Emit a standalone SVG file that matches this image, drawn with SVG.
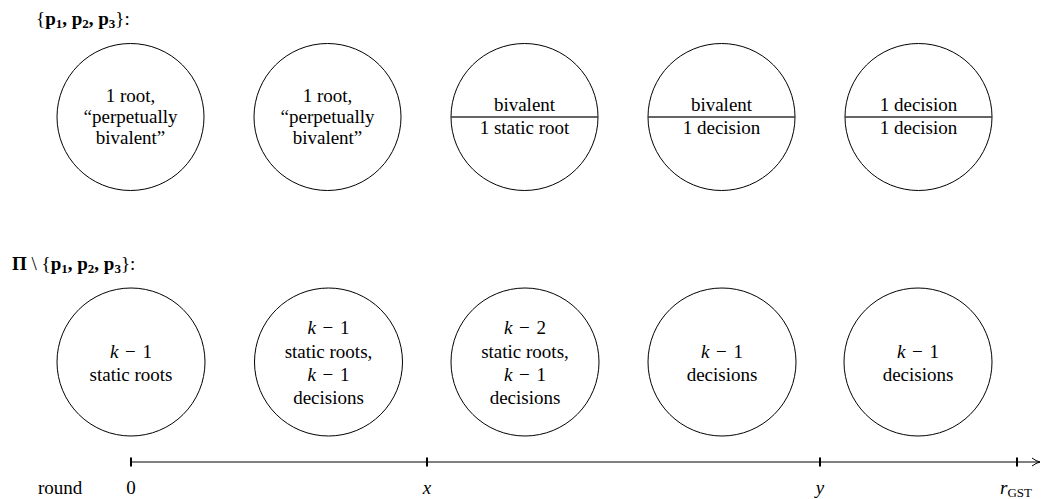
<svg xmlns="http://www.w3.org/2000/svg" width="1041" height="499" viewBox="0 0 1041 499">
<style>
text{font-family:"Liberation Serif","Times New Roman",serif;font-size:19px;fill:#000;text-anchor:middle}
.lbl{text-anchor:start}
.b{font-weight:bold}
.n{font-weight:normal}
.it{font-style:italic}
.sub{font-size:13px}
.node{fill:#fff;stroke:#000;stroke-width:1}
.split{stroke:#333;stroke-width:1.3}
.axis{stroke:#000;stroke-width:1;fill:none}
.tick{stroke:#000;stroke-width:2}
</style>
<defs>
<marker id="arr" viewBox="0 0 10 10" refX="9" refY="5" markerWidth="10" markerHeight="10" markerUnits="userSpaceOnUse" orient="auto">
<path d="M1,1 Q5,4 9,5 Q5,6 1,9" fill="none" stroke="#000" stroke-width="1"/>
</marker>
</defs>

<g id="label-top"><text class="lbl b" x="36" y="25" font-size="20"><tspan class="n">{</tspan>p<tspan class="sub" dy="3">1</tspan><tspan dy="-3">, p</tspan><tspan class="sub" dy="3">2</tspan><tspan dy="-3">, p</tspan><tspan class="sub" dy="3">3</tspan><tspan dy="-3" class="n">}:</tspan></text></g>

<g id="t1"><circle class="node" cx="130.5" cy="117" r="73.5"/>
<text x="130.5" y="102">1 root,</text><text x="130.5" y="123">“perpetually</text><text x="130.5" y="144">bivalent”</text></g>
<g id="t2"><circle class="node" cx="327.5" cy="117" r="73.5"/>
<text x="327.5" y="102">1 root,</text><text x="327.5" y="123">“perpetually</text><text x="327.5" y="144">bivalent”</text></g>
<g id="t3"><circle class="node" cx="524.5" cy="117" r="73.5"/><line class="split" x1="451" y1="117" x2="598" y2="117"/>
<text x="524.5" y="111">bivalent</text><text x="524.5" y="134">1 static root</text></g>
<g id="t4"><circle class="node" cx="721.5" cy="117" r="73.5"/><line class="split" x1="648" y1="117" x2="795" y2="117"/>
<text x="721.5" y="111">bivalent</text><text x="721.5" y="134">1 decision</text></g>
<g id="t5"><circle class="node" cx="918.5" cy="117" r="73.5"/><line class="split" x1="845" y1="117" x2="992" y2="117"/>
<text x="918.5" y="111">1 decision</text><text x="918.5" y="134">1 decision</text></g>

<g id="label-bottom"><text class="lbl b" x="12" y="270" font-size="20">Π <tspan class="n">\ {</tspan>p<tspan class="sub" dy="3">1</tspan><tspan dy="-3">, p</tspan><tspan class="sub" dy="3">2</tspan><tspan dy="-3">, p</tspan><tspan class="sub" dy="3">3</tspan><tspan dy="-3" class="n">}:</tspan></text></g>

<g id="b1"><circle class="node" cx="131" cy="362" r="74"/>
<text x="131" y="358"><tspan class="it">k</tspan><tspan dx="2"> − </tspan><tspan dx="2">1</tspan></text><text x="131" y="381">static roots</text></g>
<g id="b2"><circle class="node" cx="328.5" cy="362" r="74"/>
<text x="328.5" y="334"><tspan class="it">k</tspan><tspan dx="2"> − </tspan><tspan dx="2">1</tspan></text><text x="328.5" y="358">static roots,</text><text x="328.5" y="381"><tspan class="it">k</tspan><tspan dx="2"> − </tspan><tspan dx="2">1</tspan></text><text x="328.5" y="404">decisions</text></g>
<g id="b3"><circle class="node" cx="525" cy="362" r="74"/>
<text x="525" y="334"><tspan class="it">k</tspan><tspan dx="2"> − </tspan><tspan dx="2">2</tspan></text><text x="525" y="358">static roots,</text><text x="525" y="381"><tspan class="it">k</tspan><tspan dx="2"> − </tspan><tspan dx="2">1</tspan></text><text x="525" y="404">decisions</text></g>
<g id="b4"><circle class="node" cx="722" cy="362" r="74"/>
<text x="722" y="358"><tspan class="it">k</tspan><tspan dx="2"> − </tspan><tspan dx="2">1</tspan></text><text x="722" y="381">decisions</text></g>
<g id="b5"><circle class="node" cx="918" cy="362" r="74"/>
<text x="918" y="358"><tspan class="it">k</tspan><tspan dx="2"> − </tspan><tspan dx="2">1</tspan></text><text x="918" y="381">decisions</text></g>

<g id="connectors">
<line class="axis" x1="131" y1="462" x2="1040" y2="462" marker-end="url(#arr)"/>
<line class="tick" x1="131" y1="457.5" x2="131" y2="466.5"/>
<line class="tick" x1="427" y1="457.5" x2="427" y2="466.5"/>
<line class="tick" x1="820" y1="457.5" x2="820" y2="466.5"/>
<line class="tick" x1="1017" y1="457.5" x2="1017" y2="466.5"/>
</g>

<g id="axis-labels">
<text class="lbl" x="38" y="494">round</text>
<text x="131" y="494">0</text>
<text class="it" x="427" y="494">x</text>
<text class="it" x="820" y="494">y</text>
<text x="1016" y="494"><tspan class="it">r</tspan><tspan class="sub" dy="3">GST</tspan></text>
</g>
</svg>
